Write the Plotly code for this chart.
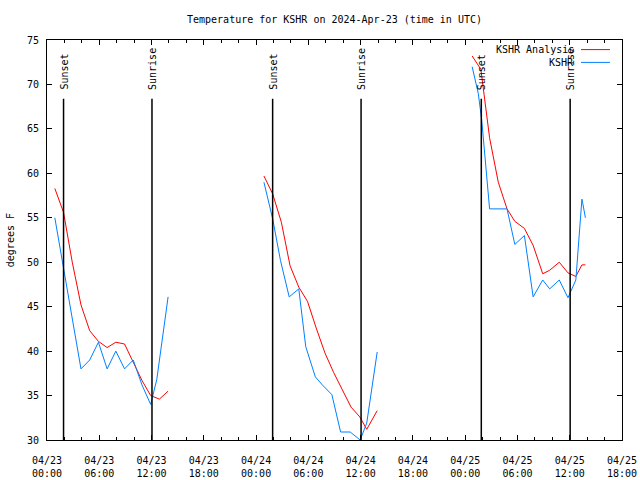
import pandas as pd
import plotly.graph_objects as go

# ---------------- data ----------------
base_time = "2024-04-23 00:00"

# hours after base_time
analysis_hours_1 = [0.9, 1.9, 2.9, 3.9, 4.9, 5.9, 6.9, 7.9, 8.9, 9.9, 10.9, 11.9, 12.9, 13.9]
analysis_vals_1 = [58.3, 55.6, 50.0, 45.2, 42.3, 41.1, 40.4, 41.0, 40.8, 38.8, 36.7, 35.0, 34.6, 35.5]
analysis_hours_2 = [24.9, 25.9, 26.9, 27.9, 28.9, 29.9, 30.9, 31.9, 32.9, 33.9, 34.9, 35.9, 36.7, 37.9]
analysis_vals_2 = [59.7, 57.7, 54.5, 49.6, 47.2, 45.6, 42.6, 39.8, 37.6, 35.6, 33.7, 32.6, 31.2, 33.3]
analysis_hours_3 = [48.8, 49.8, 50.8, 51.8, 52.8, 53.7, 54.8, 55.8, 56.9, 57.7, 58.8, 59.8, 60.7, 61.4, 61.8]
analysis_vals_3 = [73.2, 71.7, 64.0, 59.0, 56.0, 54.6, 53.8, 51.9, 48.7, 49.1, 50.0, 48.8, 48.4, 49.7, 49.7]

obs_hours_1 = [0.9, 1.9, 2.9, 3.9, 4.9, 5.9, 6.9, 7.9, 8.9, 9.9, 10.9, 11.9, 12.6, 13.9]
obs_vals_1 = [55.0, 49.4, 43.5, 38.0, 39.0, 41.0, 38.0, 40.0, 38.0, 39.0, 36.2, 34.0, 36.8, 46.1]
obs_hours_2 = [24.9, 25.9, 26.8, 27.8, 28.9, 29.7, 30.8, 31.6, 32.7, 33.7, 34.8, 35.95, 36.7, 37.9]
obs_vals_2 = [59.0, 54.9, 50.2, 46.1, 47.0, 40.5, 37.1, 36.2, 35.1, 30.9, 30.9, 30.0, 31.9, 39.9]
obs_hours_3 = [48.8, 49.5, 49.9, 50.8, 52.8, 53.7, 54.8, 55.8, 56.9, 57.7, 58.8, 59.8, 60.7, 61.4, 61.5, 61.8]
obs_vals_3 = [72.0, 69.0, 66.0, 56.0, 56.0, 52.0, 53.0, 46.1, 48.0, 47.0, 48.0, 46.0, 48.0, 57.1, 56.6, 55.0]

sun_labels = ["Sunset", "Sunrise", "Sunset", "Sunrise", "Sunset", "Sunrise"]
sun_hours = [1.9, 12.05, 25.9, 36.05, 49.85, 60.05]

title_text = "Temperature for KSHR on 2024-Apr-23 (time in UTC)"
series_names = ["KSHR Analysis", "KSHR"]
series_colors = ["#ff0000", "#0080ff"]
y_title = "degrees F"
x_range = ["2024-04-23 00:00", "2024-04-25 18:00"]
y_range = [30, 75]

# ---------------- helpers ----------------
t0 = pd.Timestamp(base_time)


def to_times(hours):
    return [t0 + pd.Timedelta(hours=h) for h in hours]


def join(hs, vs):
    xs, ys = [], []
    for h, v in zip(hs, vs):
        if xs:
            xs.append(None)
            ys.append(None)
        xs.extend(to_times(h))
        ys.extend(v)
    return xs, ys


FONT = "DejaVu Sans Mono"
FIG_W, FIG_H = 640, 480

fig = go.Figure()

ax, ay = join([analysis_hours_1, analysis_hours_2, analysis_hours_3],
              [analysis_vals_1, analysis_vals_2, analysis_vals_3])
ox, oy = join([obs_hours_1, obs_hours_2, obs_hours_3],
              [obs_vals_1, obs_vals_2, obs_vals_3])

fig.add_trace(go.Scatter(x=ax, y=ay, mode="lines", name=series_names[0],
                         line=dict(color=series_colors[0], width=1),
                         connectgaps=False, showlegend=False))
fig.add_trace(go.Scatter(x=ox, y=oy, mode="lines", name=series_names[1],
                         line=dict(color=series_colors[1], width=1),
                         connectgaps=False, showlegend=False))

# sunrise / sunset lines and labels
for lab, h in zip(sun_labels, sun_hours):
    t = t0 + pd.Timedelta(hours=h)
    fig.add_shape(type="line", xref="x", yref="y", x0=t, x1=t, y0=30, y1=68.4,
                  line=dict(color="black", width=1.5))
    fig.add_annotation(x=t, y=69.15, xref="x", yref="y", text=lab,
                       textangle=-90, showarrow=False, xanchor="center",
                       yanchor="bottom", font=dict(family=FONT, size=10, color="black"))

# manual legend (text right, sample line on right)
legend_rows = [0.976, 0.944]
for name, col, yy in zip(series_names, series_colors, legend_rows):
    fig.add_annotation(x=0.9205, y=yy, xref="paper", yref="paper", text=name,
                       showarrow=False, xanchor="right", yanchor="middle",
                       font=dict(family=FONT, size=10, color="black"))
    fig.add_shape(type="line", xref="paper", yref="paper", x0=0.9287, x1=0.9791,
                  y0=yy, y1=yy, line=dict(color=col, width=1))

# y-axis title
fig.add_annotation(x=-0.064, y=0.5, xref="paper", yref="paper", text=y_title,
                   textangle=-90, showarrow=False, xanchor="center", yanchor="middle",
                   font=dict(family=FONT, size=10, color="black"))

fig.update_layout(
    width=FIG_W, height=FIG_H,
    margin=dict(l=47, r=18, t=40, b=40),
    paper_bgcolor="white", plot_bgcolor="white",
    font=dict(family=FONT, size=10, color="black"),
    title=dict(text=title_text, xref="paper", x=0.5, xanchor="center",
               y=1 - 19 / FIG_H, yanchor="middle",
               font=dict(family=FONT, size=10, color="black")),
    showlegend=False,
    hovermode=False,
)

fig.update_xaxes(
    type="date", range=x_range, showgrid=False, zeroline=False, automargin=False,
    showline=True, linecolor="black", linewidth=1, mirror="allticks",
    ticks="inside", ticklen=5, tickcolor="black", ticklabelstandoff=11,
    tick0="2024-04-23 00:00", dtick=6 * 3600 * 1000,
    tickformat="%m/%d<br>%H:%M",
    minor=dict(ticks="inside", ticklen=3, tickcolor="black",
               dtick=2 * 3600 * 1000, tick0="2024-04-23 00:00", showgrid=False),
)
fig.update_yaxes(
    range=y_range, showgrid=False, zeroline=False, automargin=False,
    showline=True, linecolor="black", linewidth=1, mirror="allticks",
    ticks="inside", ticklen=5, tickcolor="black", dtick=5, tick0=30,
    ticklabelstandoff=5,
)

fig.write_html("out.html",
               config={"displayModeBar": False, "staticPlot": True},
               post_script="document.body.style.margin='0';document.body.style.overflow='hidden';")
